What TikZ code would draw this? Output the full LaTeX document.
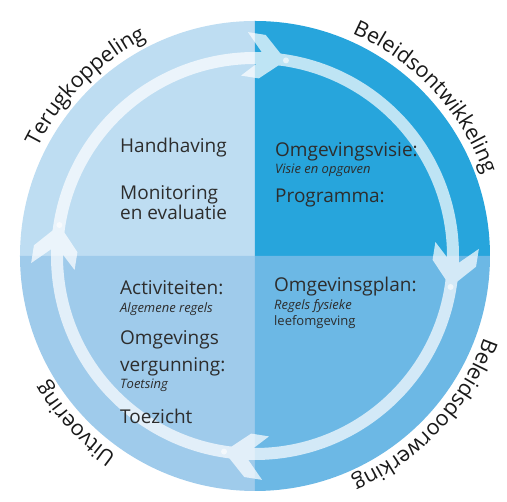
\documentclass[tikz,border=0pt]{standalone}
\usepackage{fontspec}
\setmainfont{Open Sans}
\usetikzlibrary{positioning,calc,decorations.text}

\definecolor{feedbackblue}{RGB}{190,221,242}
\definecolor{policyblue}{RGB}{39,165,220}
\definecolor{executionblue}{RGB}{159,203,235}
\definecolor{impactblue}{RGB}{108,184,229}
\definecolor{inktext}{RGB}{45,45,45}

\begin{document}
\begin{tikzpicture}[x=1pt,y=1pt]

  \tikzset{cycle ring/.style={line width=12pt, white},
    chevron/.style={fill=white},
    phase/.style={decoration={text along path, text align=center,
        text={|\fontsize{21.5}{22}\selectfont\color{black!90}|#1}}, decorate},
    line/.style={font=\fontsize{19}{21}\selectfont, text=inktext, inner sep=0pt, anchor=base west},
    sub/.style={font=\fontsize{13}{14}\selectfont\itshape, text=inktext, inner sep=0pt, anchor=base west}}

  \useasboundingbox (-255,-246) rectangle (252,256);

  % Quarters
  \coordinate (C) at (0,0);
  \fill[feedbackblue] (C) -- (90:235) arc[start angle=90, end angle=180, radius=235] -- cycle;
  \fill[policyblue] (C) -- (0:235) arc[start angle=0, end angle=90, radius=235] -- cycle;
  \fill[executionblue] (C) -- (180:235) arc[start angle=180, end angle=270, radius=235] -- cycle;
  \fill[impactblue] (C) -- (270:235) arc[start angle=270, end angle=360, radius=235] -- cycle;

  % Cycle with arrows, one group so the overlaps do not add up
  \begin{scope}[transparency group, opacity=0.7]
    \draw[cycle ring] (C) circle[radius=198];
    \foreach \a in {81,-9,-99,171}
      \fill[chevron, shift={(\a:198)}, rotate=\a-90]
        (0,0) -- (-24,22) -- (-42,22) -- (-21,0) -- (-42,-22) -- (-24,-22) -- cycle;
  \end{scope}
  \foreach \a in {81,-9,-99,171}
    \fill[white, opacity=0.6] (\a:198) circle[radius=3];

  % Phases round the circle
  \path[phase=Terugkoppeling] (180:243) arc[start angle=180, end angle=90, radius=243];
  \path[phase=Beleidsontwikkeling] (88:243) arc[start angle=88, end angle=-2, radius=243];
  \path[phase=Beleidsdoorwerking] (2:243) arc[start angle=2, end angle=-88, radius=243];
  \path[phase=Uitvoering] (-92:243) arc[start angle=-92, end angle=-182, radius=243];

  % Top left
  \node[line] (handhaving) at (-135,103) {Handhaving};
  \node[line] (monitoring) at ($(handhaving.base west)+(0,-47)$) {Monitoring};
  \node[line] (evaluatie) at ($(monitoring.base west)+(0,-20)$) {en evaluatie};

  % Top right
  \node[line] (visie) at (20,99) {Omgevingsvisie:};
  \node[sub] (opgaven) at ($(visie.base west)+(0,-17)$) {Visie en opgaven};
  \node[line] (programma) at ($(opgaven.base west)+(0,-29)$) {Programma:};

  % Bottom left
  \node[line] (activiteiten) at (-135,-39) {Activiteiten:};
  \node[sub] (regels) at ($(activiteiten.base west)+(0,-18)$) {Algemene regels};
  \node[line] (omgevings) at ($(regels.base west)+(0,-32)$) {Omgevings};
  \node[line] (vergunning) at ($(omgevings.base west)+(0,-27)$) {vergunning:};
  \node[sub] (toetsing) at ($(vergunning.base west)+(0,-17)$) {Toetsing};
  \node[line] (toezicht) at ($(toetsing.base west)+(0,-35)$) {Toezicht};

  % Bottom right
  \node[line] (plan) at (19,-36) {Omgevinsgplan:};
  \node[sub] (fysiek) at ($(plan.base west)+(0,-18)$) {Regels fysieke};
  \node[sub, font=\fontsize{13}{14}\selectfont] (leefomgeving) at ($(fysiek.base west)+(0,-16)$) {leefomgeving};

\end{tikzpicture}
\end{document}
